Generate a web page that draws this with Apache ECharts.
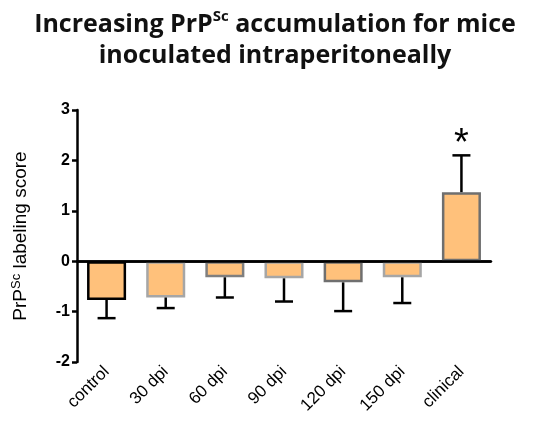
<!DOCTYPE html>
<html>
<head>
<meta charset="utf-8">
<script src="https://cdn.jsdelivr.net/npm/echarts@6/dist/echarts.min.js"></script>
<style>
html, body { margin: 0; padding: 0; background: #fff; }
#chart { width: 550px; height: 423px; }
</style>
</head>
<body>
<div id="chart"></div>
<script>
var categories = ['control', '30 dpi', '60 dpi', '90 dpi', '120 dpi', '150 dpi', 'clinical'];
var means = [-0.77, -0.72, -0.32, -0.34, -0.42, -0.32, 1.37];
var errors = [0.36, 0.21, 0.40, 0.46, 0.57, 0.51, 0.73];
var marks = ['', '', '', '', '', '', '*'];
var edgeColors = ['#000000', '#a6a6a6', '#7f7f7f', '#a6a6a6', '#6f6f6f', '#a6a6a6', '#6f6f6f'];
var yTicks = [-2, -1, 0, 1, 2, 3];

var chart = echarts.init(document.getElementById('chart'));

var barData = means.map(function (v, i) {
    return {
        value: v,
        itemStyle: {
            color: '#ffc17b',
            borderColor: edgeColors[i],
            borderWidth: 2.5
        }
    };
});

var errData = means.map(function (v, i) {
    return [i, v, errors[i], marks[i]];
});

function renderError(params, api) {
    var idx = api.value(0);
    var m = api.value(1);
    var e = api.value(2);
    var dir = m >= 0 ? 1 : -1;
    var p0 = api.coord([idx, m]);
    var p1 = api.coord([idx, m + dir * e]);
    var half = 9;
    var style = { stroke: '#000', lineWidth: 2.5 };
    var children = [
        { type: 'line', shape: { x1: p0[0], y1: p0[1], x2: p1[0], y2: p1[1] }, style: style },
        { type: 'line', shape: { x1: p1[0] - half, y1: p1[1], x2: p1[0] + half, y2: p1[1] }, style: style }
    ];
    var mark = errData[params.dataIndex][3];
    if (mark) {
        children.push({
            type: 'text',
            style: {
                text: mark,
                x: p1[0],
                y: p1[1] + 8,
                align: 'center',
                verticalAlign: 'bottom',
                font: '38px "Liberation Sans", Arial, sans-serif',
                fill: '#000'
            }
        });
    }
    return { type: 'group', children: children };
}

var option = {
    animation: false,
    title: {
        text: 'Increasing PrP{sup|Sc} accumulation for mice\ninoculated intraperitoneally',
        left: 'center',
        top: 4,
        textStyle: {
            fontFamily: 'Open Sans',
            fontWeight: 'bold',
            fontSize: 25,
            color: '#111',
            lineHeight: 31,
            rich: {
                sup: {
                    fontFamily: 'Open Sans',
                    fontWeight: 'bold',
                    fontSize: 15,
                    verticalAlign: 'top',
                    lineHeight: 31,
                    padding: [0, 0, 6, 0],
                    color: '#111'
                }
            }
        }
    },
    grid: {
        left: 77,
        right: 59,
        top: 110,
        bottom: 61
    },
    xAxis: {
        type: 'category',
        data: categories,
        axisLine: { lineStyle: { color: '#000', width: 2.5 } },
        axisTick: { alignWithLabel: true, length: 5, lineStyle: { color: '#000', width: 2.5 } },
        axisLabel: {
            rotate: 45,
            color: '#000',
            fontSize: 17,
            fontFamily: '"Liberation Sans", Arial, sans-serif',
            margin: 7
        }
    },
    yAxis: {
        type: 'value',
        min: -2,
        max: 3,
        interval: 1,
        name: 'PrP{sup|Sc} labeling score',
        nameLocation: 'middle',
        nameGap: 46,
        nameTextStyle: {
            fontSize: 19,
            color: '#000',
            fontFamily: '"Liberation Sans", Arial, sans-serif',
            rich: {
                sup: {
                    fontSize: 13,
                    color: '#000',
                    fontFamily: '"Liberation Sans", Arial, sans-serif',
                    verticalAlign: 'top',
                    padding: [0, 0, 8, 0]
                }
            }
        },
        splitLine: { show: false },
        axisLine: { show: true, lineStyle: { color: '#000', width: 2.5 } },
        axisTick: { show: true, length: 5, lineStyle: { color: '#000', width: 2.5 } },
        axisLabel: {
            color: '#000',
            fontWeight: 'bold',
            fontSize: 16,
            fontFamily: '"Liberation Sans", Arial, sans-serif',
            margin: 7,
            formatter: function (v) {
                return yTicks.indexOf(v) >= 0 ? String(v) : '';
            }
        }
    },
    series: [
        {
            type: 'bar',
            data: barData,
            barWidth: '66%',
            z: 2,
            markLine: {
                silent: true,
                symbol: 'none',
                label: { show: false },
                lineStyle: { color: '#000', width: 2.5, type: 'solid' },
                data: [{ yAxis: 0 }]
            }
        },
        {
            type: 'custom',
            renderItem: renderError,
            data: errData,
            encode: { x: 0, y: 1 },
            z: 3
        }
    ]
};

chart.setOption(option);
</script>
</body>
</html>
